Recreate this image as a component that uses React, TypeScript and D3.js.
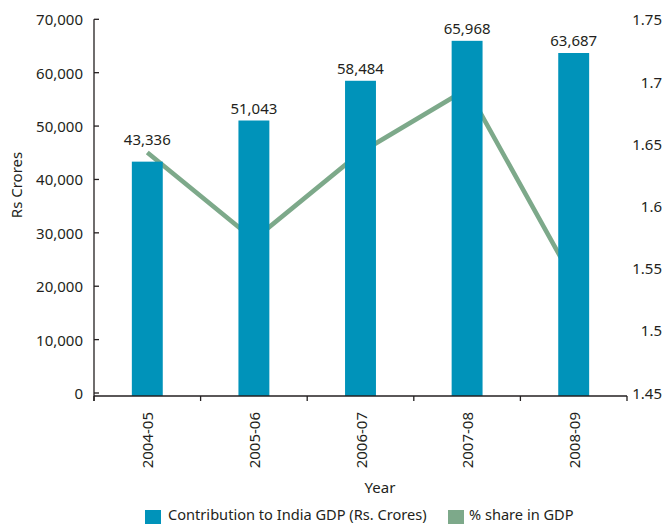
import React from "react";
import * as d3 from "d3";

const years = ["2004-05", "2005-06", "2006-07", "2007-08", "2008-09"];
const gdpContribution = [43336, 51043, 58484, 65968, 63687];
const gdpShare = [1.643, 1.573, 1.643, 1.694, 1.54];
const leftTicks = [0, 10000, 20000, 30000, 40000, 50000, 60000, 70000];
const rightTicks = [1.45, 1.5, 1.55, 1.6, 1.65, 1.7, 1.75];

const W = 664;
const H = 524;
const TEXT = "#231F20";
const BAR = "#0093BA";
const LINE = "#7DA98A";
const FONT = "'Noto Sans', sans-serif";

export default function App() {
  const x = d3.scaleBand<string>().domain(years).range([94, 627]).padding(0);
  const yL = d3.scaleLinear().domain([0, 70000]).range([393, 19.3]);
  const yR = d3.scaleLinear().domain([1.45, 1.75]).range([392.7, 19.3]);
  const baseline = 396;
  const bw = x.bandwidth() * 0.29;
  const cx = (y: string) => (x(y) as number) + x.bandwidth() / 2;
  const fmt = d3.format(",");

  const linePath = d3
    .line<number>()
    .x((_, i) => cx(years[i]))
    .y((d) => yR(d))(gdpShare) as string;

  const boundaries = [...years.map((y) => x(y) as number), 627];

  return (
    <svg
      width={W}
      height={H}
      style={{ position: "absolute", left: 0, top: 0, background: "#fff" }}
      fontFamily={FONT}
    >
      {/* line (behind bars) */}
      <path d={linePath} fill="none" stroke={LINE} strokeWidth={4.6} />

      {/* bars */}
      {years.map((y, i) => (
        <rect
          key={y}
          x={cx(y) - bw / 2}
          y={yL(gdpContribution[i])}
          width={bw}
          height={baseline - yL(gdpContribution[i])}
          fill={BAR}
        />
      ))}

      {/* value labels, kept above both the bar and the line */}
      {years.map((y, i) => (
        <text
          key={"v" + y}
          x={cx(y)}
          y={Math.min(yL(gdpContribution[i]), yR(gdpShare[i])) - 7}
          textAnchor="middle"
          fontSize={15}
          fill={TEXT}
        >
          {fmt(gdpContribution[i])}
        </text>
      ))}

      {/* left axis */}
      <line x1={94} x2={94} y1={yL(70000)} y2={baseline + 5} stroke={TEXT} strokeWidth={1.3} />
      {leftTicks.map((t) => (
        <g key={"lt" + t}>
          <line x1={94} x2={99} y1={yL(t)} y2={yL(t)} stroke={TEXT} strokeWidth={1.3} />
          <text
            x={83}
            y={yL(t)}
            textAnchor="end"
            dominantBaseline="central"
            fontSize={15}
            fill={TEXT}
          >
            {fmt(t)}
          </text>
        </g>
      ))}

      {/* x axis */}
      <line x1={94} x2={627} y1={baseline} y2={baseline} stroke={TEXT} strokeWidth={1.3} />
      {boundaries.map((b, i) => (
        <line key={"xb" + i} x1={b} x2={b} y1={baseline} y2={baseline + 5} stroke={TEXT} strokeWidth={1.3} />
      ))}
      {years.map((y) => (
        <text
          key={"xl" + y}
          transform={`translate(${cx(y)},412) rotate(-90)`}
          textAnchor="end"
          dominantBaseline="central"
          fontSize={15}
          fill={TEXT}
        >
          {y}
        </text>
      ))}

      {/* right axis labels */}
      {rightTicks.map((t) => (
        <text
          key={"rt" + t}
          x={662}
          y={yR(t)}
          textAnchor="end"
          dominantBaseline="central"
          fontSize={15}
          fill={TEXT}
        >
          {String(t)}
        </text>
      ))}

      {/* axis titles */}
      <text
        transform="translate(22,185) rotate(-90)"
        textAnchor="middle"
        fontSize={15}
        fill={TEXT}
      >
        Rs Crores
      </text>
      <text x={380} y={493} textAnchor="middle" fontSize={15} fill={TEXT}>
        Year
      </text>

      {/* legend */}
      <rect x={145} y={510} width={16} height={14} fill={BAR} />
      <text x={168} y={520} fontSize={14.6} fill={TEXT}>
        Contribution to India GDP (Rs. Crores)
      </text>
      <rect x={448} y={510} width={16} height={14} fill={LINE} />
      <text x={469} y={520} fontSize={14.6} fill={TEXT}>
        % share in GDP
      </text>
    </svg>
  );
}
